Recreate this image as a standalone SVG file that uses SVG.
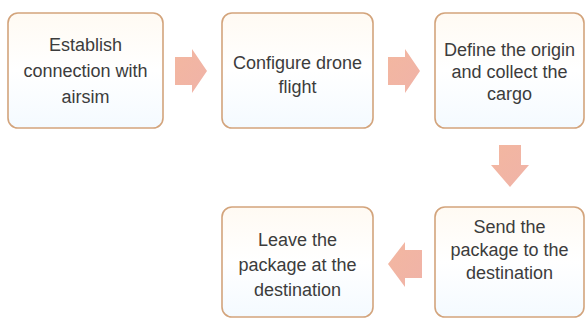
<svg xmlns="http://www.w3.org/2000/svg" width="586" height="320" viewBox="0 0 586 320">
<defs>
<linearGradient id="boxfill" x1="0" y1="0" x2="0" y2="1">
<stop offset="0" stop-color="#fffaf3"/>
<stop offset="0.5" stop-color="#ffffff"/>
<stop offset="1" stop-color="#f4faff"/>
</linearGradient>
<linearGradient id="arrowfill" x1="0" y1="0" x2="1" y2="1">
<stop offset="0" stop-color="#f3b7a0"/>
<stop offset="1" stop-color="#f0b3a8"/>
</linearGradient>
</defs>
<style>
.box{fill:url(#boxfill);stroke:#d3a47c;stroke-width:1.6}
.lbl{font-family:"Liberation Sans",Arial,sans-serif;font-size:18px;fill:#3c3c3c;text-anchor:middle}
.arr{fill:url(#arrowfill);stroke:none}
</style>
<rect width="586" height="320" fill="#ffffff"/>
<g id="connectors">
<polygon class="arr" points="175,57 192,57 192,49 207,71 192,93 192,85 175,85"/>
<polygon class="arr" points="388,57 405,57 405,49 420,71 405,93 405,85 388,85"/>
<polygon class="arr" points="499,145 521,145 521,165 529,165 510,187 491,165 499,165"/>
<polygon class="arr" points="422,250 405,250 405,242 388,264 405,287 405,278 422,278"/>
</g>
<g id="node1">
<rect class="box" x="8" y="13" width="155" height="115" rx="10"/>
<text class="lbl" x="85.5" y="51">Establish</text>
<text class="lbl" x="85.5" y="77">connection with</text>
<text class="lbl" x="85.5" y="103">airsim</text>
</g>
<g id="node2">
<rect class="box" x="222" y="13" width="151" height="115" rx="10"/>
<text class="lbl" x="297.5" y="69">Configure drone</text>
<text class="lbl" x="297.5" y="93">flight</text>
</g>
<g id="node3">
<rect class="box" x="435" y="13" width="149" height="115" rx="10"/>
<text class="lbl" x="509.5" y="56">Define the origin</text>
<text class="lbl" x="509.5" y="78">and collect the</text>
<text class="lbl" x="509.5" y="100">cargo</text>
</g>
<g id="node4">
<rect class="box" x="435" y="207" width="149" height="110" rx="10"/>
<text class="lbl" x="509.5" y="233">Send the</text>
<text class="lbl" x="509.5" y="256">package to the</text>
<text class="lbl" x="509.5" y="279">destination</text>
</g>
<g id="node5">
<rect class="box" x="222" y="207" width="151" height="110" rx="10"/>
<text class="lbl" x="297.5" y="246">Leave the</text>
<text class="lbl" x="297.5" y="271">package at the</text>
<text class="lbl" x="297.5" y="296">destination</text>
</g>
</svg>
